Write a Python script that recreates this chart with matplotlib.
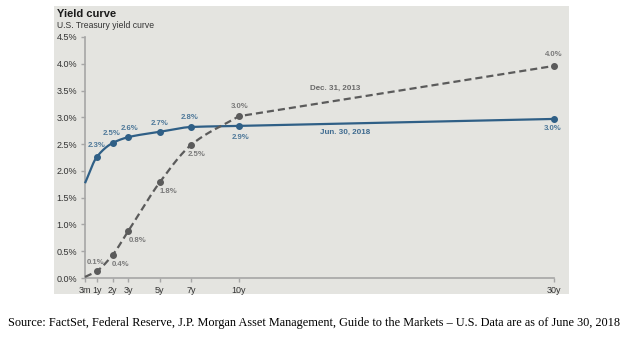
import numpy as np
import matplotlib
matplotlib.use("Agg")
import matplotlib.pyplot as plt

# ---- data ----
maturity_years = [0.25, 1, 2, 3, 5, 7, 10, 30]
tick_labels = ["3m", "1y", "2y", "3y", "5y", "7y", "10y", "30y"]
jun2018 = [1.77, 2.26, 2.52, 2.63, 2.73, 2.82, 2.84, 2.97]
dec2013 = [0.02, 0.13, 0.43, 0.88, 1.79, 2.49, 3.02, 3.96]
jun2018_labels = [None, "2.3%", "2.5%", "2.6%", "2.7%", "2.8%", "2.9%", "3.0%"]
dec2013_labels = [None, "0.1%", "0.4%", "0.8%", "1.8%", "2.5%", "3.0%", "4.0%"]
yticks = [0.0, 0.5, 1.0, 1.5, 2.0, 2.5, 3.0, 3.5, 4.0, 4.5]

BLUE = "#2f5f86"
GRAY = "#5b5b5b"
BG = "#e4e4e0"
AXC = "#a6a6a6"
FONT = "Liberation Sans"


def pchip(x, y, n=300):
    """Monotone cubic (Fritsch-Carlson) rendering of a curve through points."""
    x = np.asarray(x, float)
    y = np.asarray(y, float)
    h = np.diff(x)
    d = np.diff(y) / h
    m = np.zeros_like(y)
    m[0], m[-1] = d[0], d[-1]
    for i in range(1, len(x) - 1):
        if d[i - 1] * d[i] <= 0:
            m[i] = 0
        else:
            w1 = 2 * h[i] + h[i - 1]
            w2 = h[i] + 2 * h[i - 1]
            m[i] = (w1 + w2) / (w1 / d[i - 1] + w2 / d[i])
    xs = np.linspace(x[0], x[-1], n)
    idx = np.clip(np.searchsorted(x, xs) - 1, 0, len(x) - 2)
    t = (xs - x[idx]) / h[idx]
    h00 = 2 * t**3 - 3 * t**2 + 1
    h10 = t**3 - 2 * t**2 + t
    h01 = -2 * t**3 + 3 * t**2
    h11 = t**3 - t**2
    ys = h00 * y[idx] + h10 * h[idx] * m[idx] + h01 * y[idx + 1] + h11 * h[idx] * m[idx + 1]
    return xs, ys


def curve(x, y):
    """Smooth through the short end, straight for the last (long) segment."""
    xs, ys = pchip(x[:-1], y[:-1])
    return np.append(xs, x[-1]), np.append(ys, y[-1])


W, H = 624, 338
fig = plt.figure(figsize=(W / 100, H / 100), dpi=100)
fig.patch.set_facecolor("white")

# grey panel as a background axes
bg = fig.add_axes([54 / W, 1 - 294 / H, (569 - 54) / W, (294 - 6) / H], zorder=-5)
bg.set_facecolor(BG)
bg.set_xticks([])
bg.set_yticks([])
for s in bg.spines.values():
    s.set_visible(False)

fig.text(57 / W, 1 - 14 / H, "Yield curve", fontsize=8, fontweight="bold", family=FONT,
         va="center", ha="left", color="#1a1a1a")
fig.text(57 / W, 1 - 25 / H, "U.S. Treasury yield curve", fontsize=6.2, family=FONT,
         va="center", ha="left", color="#333333")

ax = fig.add_axes([85 / W, 1 - 278 / H, (554 - 85) / W, (278 - 37) / H], zorder=1)
ax.set_facecolor("none")
ax.set_xlim(maturity_years[0], maturity_years[-1])
ax.set_ylim(0, 4.5)
for s in ["top", "right"]:
    ax.spines[s].set_visible(False)
for s in ["left", "bottom"]:
    ax.spines[s].set_color(AXC)
    ax.spines[s].set_linewidth(1.2)
ax.set_xticks(maturity_years)
ax.set_xticklabels(tick_labels)
ax.set_yticks(yticks)
ax.set_yticklabels([f"{v:.1f}%" for v in yticks])
ax.tick_params(axis="both", colors=AXC, length=3, width=1, labelsize=6.5, pad=2.5)
for lbl in ax.get_xticklabels() + ax.get_yticklabels():
    lbl.set_color("#333333")
    lbl.set_family(FONT)

# Jun 2018
xs, ys = curve(maturity_years, jun2018)
ax.plot(xs, ys, color=BLUE, lw=1.6, solid_capstyle="butt", zorder=3, clip_on=False)
ax.plot(maturity_years[1:], jun2018[1:], "o", color=BLUE, ms=4, zorder=4, clip_on=False)

# Dec 2013
xs2, ys2 = curve(maturity_years, dec2013)
ax.plot(xs2, ys2, color=GRAY, lw=1.6, dashes=(3.2, 1.8), zorder=3, clip_on=False)
ax.plot(maturity_years[1:], dec2013[1:], "o", color=GRAY, ms=4, zorder=4, clip_on=False)

blue_off = [None, (0, 8), (-1, 7), (1, 6), (0, 6), (-1, 7), (1, -8), (-1, -7)]
gray_off = [None, (-1, 6), (6, -7), (7, -7), (6, -7), (4, -7), (1, 7), (0, 8)]
for x, y, t, o in zip(maturity_years, jun2018, jun2018_labels, blue_off):
    if t:
        ax.annotate(t, (x, y), xytext=o, textcoords="offset points", ha="center", va="center",
                    fontsize=5.6, fontweight="bold", color="#4e7899", family=FONT)
for x, y, t, o in zip(maturity_years, dec2013, dec2013_labels, gray_off):
    if t:
        ax.annotate(t, (x, y), xytext=o, textcoords="offset points", ha="center", va="center",
                    fontsize=5.6, fontweight="bold", color="#7a7a7a", family=FONT)

ax.text(16.1, 3.55, "Dec. 31, 2013", fontsize=5.8, fontweight="bold", color="#6a6a6a",
        ha="center", va="center", family=FONT)
ax.text(16.75, 2.72, "Jun. 30, 2018", fontsize=5.8, fontweight="bold", color="#3f6b90",
        ha="center", va="center", family=FONT)

fig.text(314 / W, 1 - 323 / H,
         "Source: FactSet, Federal Reserve, J.P. Morgan Asset Management, Guide to the Markets \u2013 U.S. Data are as of June 30, 2018",
         fontsize=8.8, family="Liberation Serif", ha="center", va="center", color="black")

fig.savefig("out.png", dpi=100)
